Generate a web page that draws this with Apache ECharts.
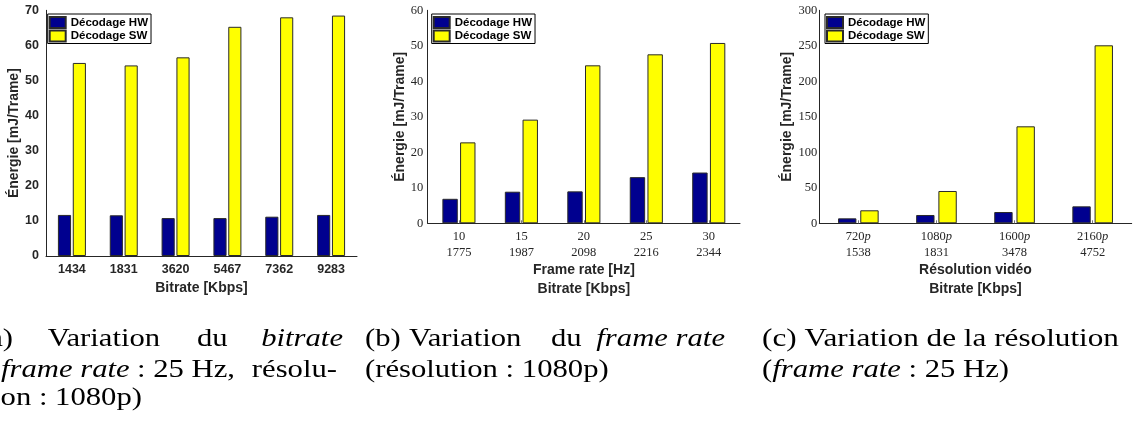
<!DOCTYPE html>
<html>
<head>
<meta charset="utf-8">
<script src="https://cdn.jsdelivr.net/npm/echarts@6/dist/echarts.min.js"></script>
<style>
html,body{margin:0;padding:0;background:#fff;}
#chart{width:1135px;height:429px;}
</style>
</head>
<body>
<div id="chart"></div>
<script>
// ---- Data ----
const seriesNames = ['Décodage HW', 'Décodage SW'];

// (a) Variation du bitrate
const bitratesA = ['1434', '1831', '3620', '5467', '7362', '9283'];
const hwA = [11.7, 11.6, 10.8, 10.8, 11.2, 11.7];
const swA = [55.0, 54.3, 56.6, 65.3, 68.0, 68.5];
const yTicksA = [0, 10, 20, 30, 40, 50, 60, 70];

// (b) Variation du frame rate
const frameRatesB = ['10', '15', '20', '25', '30'];
const bitratesB = ['1775', '1987', '2098', '2216', '2344'];
const hwB = [6.9, 8.9, 9.0, 13.0, 14.3];
const swB = [22.8, 29.2, 44.5, 47.6, 50.8];
const yTicksB = [0, 10, 20, 30, 40, 50, 60];

// (c) Variation de la résolution
const resolutionsC = ['720', '1080', '1600', '2160'];
const bitratesC = ['1538', '1831', '3478', '4752'];
const hwC = [7.0, 11.7, 15.9, 23.9];
const swC = [18.3, 45.5, 136.6, 250.7];
const yTicksC = [0, 50, 100, 150, 200, 250, 300];

// ---- Styles ----
const SANS = 'Liberation Sans';
const SERIF = 'Liberation Serif';
const AX = '#262626';
const HW_COLOR = '#00008F';
const SW_COLOR = '#FFFF00';
const EDGE = '#2a2a2a';

const chart = echarts.init(document.getElementById('chart'));

function yAxisDef(idx, ticks, labelFont, nameGap, labelMargin) {
  return {
    type: 'value', gridIndex: idx,
    min: ticks[0], max: ticks[ticks.length - 1], interval: ticks[1] - ticks[0],
    name: 'Énergie [mJ/Trame]', nameLocation: 'middle', nameGap: nameGap, nameRotate: 90,
    nameTextStyle: {fontFamily: SANS, fontWeight: 'bold', fontSize: 14, color: AX},
    axisLine: {show: true, lineStyle: {color: AX, width: 1}},
    axisTick: {show: false},
    splitLine: {show: false},
    axisLabel: Object.assign({margin: labelMargin, color: AX}, labelFont)
  };
}

const boldSans = {fontFamily: SANS, fontWeight: 'bold', fontSize: 12.5};
const serifLbl = {fontFamily: SERIF, fontSize: 12.5, lineHeight: 16};

const xAxes = [
  {
    type: 'category', gridIndex: 0, data: bitratesA,
    name: 'Bitrate [Kbps]', nameLocation: 'middle', nameGap: 24,
    nameTextStyle: {fontFamily: SANS, fontWeight: 'bold', fontSize: 14, color: AX},
    axisLine: {lineStyle: {color: AX}}, axisTick: {show: false},
    axisLabel: Object.assign({margin: 7, color: AX, interval: 0}, boldSans)
  },
  {
    type: 'category', gridIndex: 1, data: frameRatesB,
    name: 'Frame rate [Hz]\nBitrate [Kbps]', nameLocation: 'middle', nameGap: 36,
    nameTextStyle: {fontFamily: SANS, fontWeight: 'bold', fontSize: 14, color: AX, lineHeight: 18.4},
    axisLine: {lineStyle: {color: AX}},
    axisTick: {show: true, inside: true, length: 3, alignWithLabel: true, lineStyle: {color: '#777'}},
    axisLabel: Object.assign({margin: 5, color: AX, interval: 0,
      formatter: (v, i) => v + '\n' + bitratesB[i]}, serifLbl)
  },
  {
    type: 'category', gridIndex: 2, data: resolutionsC,
    name: 'Résolution vidéo\nBitrate [Kbps]', nameLocation: 'middle', nameGap: 36,
    nameTextStyle: {fontFamily: SANS, fontWeight: 'bold', fontSize: 14, color: AX, lineHeight: 18.4},
    axisLine: {lineStyle: {color: AX}},
    axisTick: {show: true, inside: true, length: 3, alignWithLabel: true, lineStyle: {color: '#777'}},
    axisLabel: {margin: 5, color: AX, fontFamily: SERIF, fontSize: 12.5, lineHeight: 16, interval: 0,
      formatter: (v, i) => '{n|' + v + '}{i|p}\n{n|' + bitratesC[i] + '}',
      rich: {
        n: {fontFamily: SERIF, fontSize: 12.5, color: AX, lineHeight: 16},
        i: {fontFamily: SERIF, fontSize: 12.5, fontStyle: 'italic', color: AX, lineHeight: 16}
      }}
  }
];

const yAxes = [
  yAxisDef(0, yTicksA, boldSans, 23.5, 7),
  yAxisDef(1, yTicksB, {fontFamily: SERIF, fontSize: 12.5}, 19, 4.5),
  yAxisDef(2, yTicksC, {fontFamily: SERIF, fontSize: 12.5}, 25, 2)
];

function barPair(idx, hw, sw, catGap, gap) {
  return [
    {name: seriesNames[0], type: 'bar', xAxisIndex: idx, yAxisIndex: idx, data: hw,
     barCategoryGap: catGap, barGap: gap,
     itemStyle: {color: HW_COLOR, borderColor: EDGE, borderWidth: 1}},
    {name: seriesNames[1], type: 'bar', xAxisIndex: idx, yAxisIndex: idx, data: sw,
     barCategoryGap: catGap, barGap: gap,
     itemStyle: {color: SW_COLOR, borderColor: EDGE, borderWidth: 1}}
  ];
}

function legendDef(left) {
  return {
    data: seriesNames, orient: 'vertical', left: left, top: 14,
    backgroundColor: '#fff', borderColor: '#000', borderWidth: 1, borderRadius: 0,
    padding: [2, 3, 1, 1], itemGap: 0.5, itemWidth: 16, itemHeight: 11, icon: 'rect',
    selectedMode: false,
    textStyle: {fontFamily: SANS, fontWeight: 'bold', fontSize: 11.5, color: '#000'}
  };
}

// ---- Captions ----
const CAP_SIZE = 26;
const SX = 1.18;
const capRich = {
  i: {fontFamily: SERIF, fontSize: CAP_SIZE, fontStyle: 'italic', fill: '#000', color: '#000'},
  n: {fontFamily: SERIF, fontSize: CAP_SIZE, fill: '#000', color: '#000'}
};
const MID = 8.8;
const B1 = 348 - MID, B2 = 379 - MID, B3 = 407 - MID;
function cap(x, y, text, align, sx) {
  return {
    type: 'text', x: x, y: y, scaleX: sx || SX, silent: true,
    style: {
      text: text, rich: capRich, fill: '#000',
      fontFamily: SERIF, fontSize: CAP_SIZE,
      font: CAP_SIZE + 'px "' + SERIF + '"',
      align: align, textAlign: align, verticalAlign: 'middle', textVerticalAlign: 'middle'
    }
  };
}

const option = {
  animation: false,
  backgroundColor: '#fff',
  grid: [
    {left: 46, top: 10.3, width: 311, height: 245.7},
    {left: 427.7, top: 10.3, width: 312.3, height: 213},
    {left: 819.3, top: 10.3, width: 312.4, height: 213}
  ],
  xAxis: xAxes,
  yAxis: yAxes,
  legend: [legendDef(47.7), legendDef(431.7), legendDef(825)],
  series: [].concat(
    barPair(0, hwA, swA, '46%', '13%'),
    barPair(1, hwB, swB, '47%', '15%'),
    barPair(2, hwC, swC, '48%', '21%')
  ),
  graphic: [
    cap(13, B1, '(a)', 'right'),
    cap(47.7, B1, 'Variation', 'left'),
    cap(197, B1, 'du', 'left'),
    cap(343, B1, '{i|bitrate}', 'right'),
    cap(1, B2, '{i|frame rate}', 'left'),
    cap(137, B2, ': 25 Hz,', 'left'),
    cap(337, B2, 'résolu-', 'right'),
    cap(142, B3, 'tion : 1080p)', 'right'),
    cap(365, B1, '(b)', 'left'),
    cap(409, B1, 'Variation', 'left'),
    cap(551, B1, 'du', 'left'),
    cap(725, B1, '{i|frame rate}', 'right'),
    cap(365, B2, '(résolution : 1080p)', 'left'),
    cap(762, B1, '(c) Variation de la résolution', 'left', 1.2),
    cap(762, B2, '({i|frame rate} : 25 Hz)', 'left')
  ]
};
chart.setOption(option);
</script>
</body>
</html>
